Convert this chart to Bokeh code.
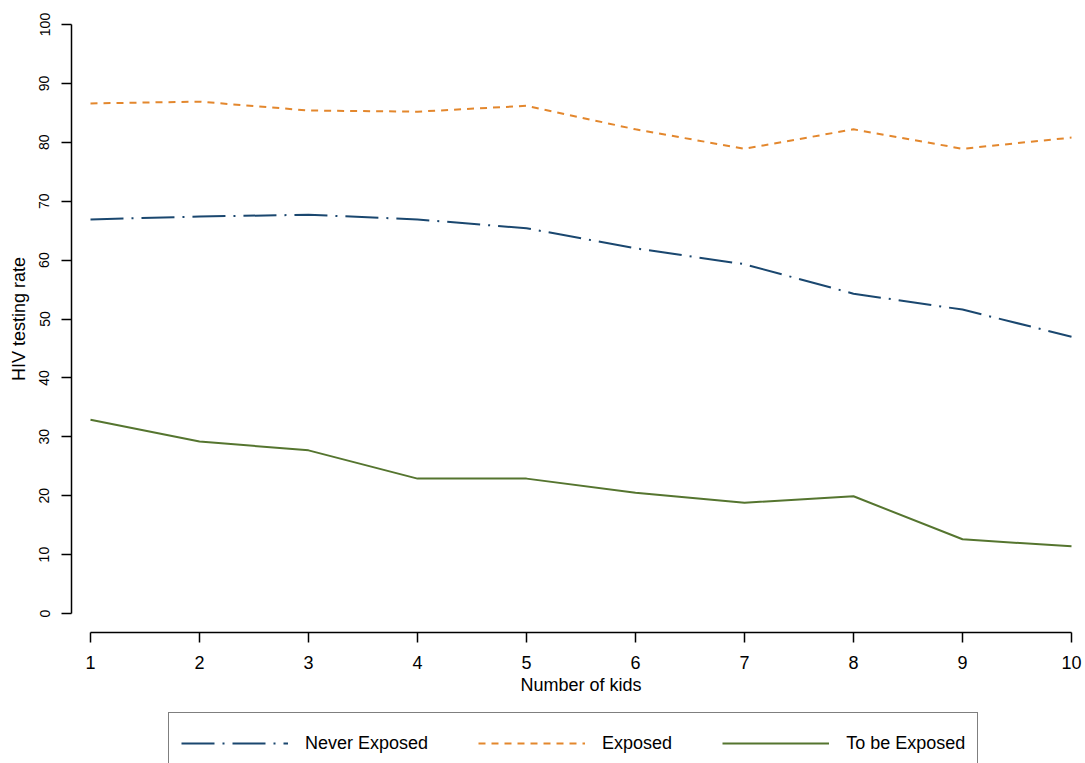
from bokeh.plotting import figure
from bokeh.models import Range1d, FixedTicker, Legend, LegendItem
from bokeh.embed import file_html
from bokeh.resources import INLINE

kids = [1, 2, 3, 4, 5, 6, 7, 8, 9, 10]
never_exposed = [66.9, 67.4, 67.7, 66.9, 65.4, 62.0, 59.3, 54.3, 51.6, 47.0]
exposed = [86.6, 86.9, 85.4, 85.2, 86.2, 82.2, 78.9, 82.2, 78.9, 80.8]
to_be_exposed = [32.9, 29.2, 27.7, 22.9, 22.9, 20.5, 18.8, 19.9, 12.6, 11.4]
y_ticks = [0, 10, 20, 30, 40, 50, 60, 70, 80, 90, 100]

FONT = "Liberation Sans"
W, H = 1085, 763
XS = 109.0   # px per kid
YS = 5.89    # px per percentage point

p = figure(width=W, height=H, output_backend="svg", toolbar_location=None,
           x_range=Range1d(1 - 90 / XS, 10 + (W - 1071) / XS),
           y_range=Range1d(-(H - 613) / YS, 100 + 24 / YS),
           min_border=0, min_border_left=0, min_border_right=0,
           min_border_top=0, min_border_bottom=0,
           background_fill_color="white", border_fill_color="white")
p.outline_line_color = None
p.xgrid.visible = False
p.ygrid.visible = False

r1 = p.line(kids, never_exposed, line_color="#1a476f", line_width=2, line_dash="33 8 2 8")
r2 = p.line(kids, exposed, line_color="#e3872d", line_width=2, line_dash="7 6")
r3 = p.line(kids, to_be_exposed, line_color="#55752f", line_width=2)

for ax in (p.xaxis[0], p.yaxis[0]):
    ax.axis_line_color = "black"
    ax.axis_line_width = 1.5
    ax.major_tick_line_color = "black"
    ax.major_tick_line_width = 1.5
    ax.major_tick_out = 10
    ax.major_tick_in = 0
    ax.minor_tick_line_color = None
    ax.major_label_text_font = FONT
    ax.major_label_text_color = "black"
    ax.axis_label_text_font = FONT
    ax.axis_label_text_font_style = "normal"
    ax.axis_label_text_font_size = "18px"
    ax.axis_label_text_color = "black"

xa = p.xaxis[0]
xa.ticker = FixedTicker(ticks=kids)
xa.bounds = (1, 10)
xa.fixed_location = -19 / YS
xa.axis_label = "Number of kids"
xa.major_label_text_font_size = "18px"
xa.major_label_standoff = 13
xa.axis_label_standoff = 3

ya = p.yaxis[0]
ya.ticker = FixedTicker(ticks=y_ticks)
ya.bounds = (0, 100)
ya.fixed_location = 1 - 19 / XS
ya.axis_label = "HIV testing rate"
ya.major_label_text_font_size = "14px"
ya.major_label_orientation = "vertical"
ya.major_label_standoff = 12
ya.axis_label_standoff = 8

legend = Legend(items=[LegendItem(label="Never Exposed", renderers=[r1]),
                       LegendItem(label="Exposed", renderers=[r2]),
                       LegendItem(label="To be Exposed", renderers=[r3])],
                orientation="horizontal", location=(168, -11))
legend.glyph_width = 107
legend.glyph_height = 36
legend.label_standoff = 17
legend.spacing = 50
legend.padding = 12
legend.margin = 0
legend.label_text_font = FONT
legend.label_text_font_size = "18px"
legend.label_text_color = "black"
legend.border_line_color = "black"
legend.border_line_width = 1.2
legend.background_fill_color = "white"
legend.background_fill_alpha = 1
p.add_layout(legend, "center")

open("out.html", "w").write(file_html(p, INLINE))
